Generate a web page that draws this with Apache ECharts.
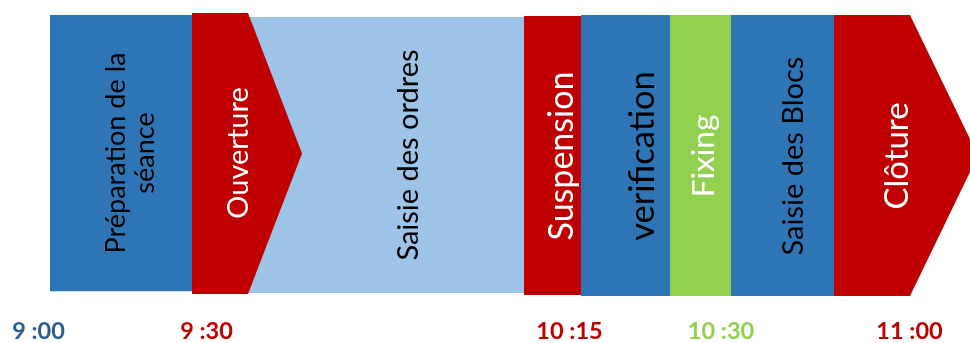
<!DOCTYPE html>
<html><head><meta charset="utf-8">
<script src="https://cdn.jsdelivr.net/npm/echarts@6/dist/echarts.min.js"></script>
<style>html,body{margin:0;padding:0;background:#fff}#c{width:970px;height:343px}</style>
</head><body><div id="c"></div>
<script>
// ---- data ----
const phases = ['Préparation de la\nséance','Saisie des ordres','Ouverture','Suspension','verification','Fixing','Saisie des Blocs','Clôture'];
const phaseStart = [50, 248, 192, 524, 581, 670, 731, 834];
const phaseEnd   = [192, 524, 248, 581, 670, 731, 834, 910];
const phaseTip   = [0, 0, 302, 0, 0, 0, 0, 978];
const phaseTop   = [15, 17, 13, 16, 15, 15, 15, 15];
const phaseBottom= [293, 295, 296, 297, 298, 298, 298, 298];
const tickValues = [38.5, 206.5, 569.5, 721, 909.5];
const tickLabels = ['9 :00', '9 :30', '10 :15', '10 :30', '11 :00'];

// ---- layout / style ----
const kind = ['blue','light','red','red','blue','green','blue','red'];
const fill = {blue:'#2E75B6', light:'#9DC3E6', red:'#C00000', green:'#92D050'};
const textFill = {blue:'#000', light:'#000', red:'#fff', green:'#fff'};
const labelX = [131, 409, 239, 562, 643, 704, 794, 897];
const labelY = [154, 156, 154, 157, 157, 157, 157, 157];
const labelSize = [27, 29, 29, 34, 34.5, 31.5, 29, 33];
const tickColors = ['#2F5C8F','#C00000','#C00000','#92D050','#C00000'];

const chart = echarts.init(document.getElementById('c'), null, {renderer:'canvas'});
const rich = {};
tickColors.forEach((c,i)=>{ rich['t'+i] = {color:c, fontFamily:'Lato', fontWeight:'bold', fontSize:23.5}; });
chart.setOption({
  animation:false,
  grid:{left:0,right:0,top:0,bottom:30},
  xAxis:{type:'value',min:0,max:970,axisLine:{show:false},axisTick:{show:false},splitLine:{show:false},
    axisLabel:{customValues:tickValues, margin:8, formatter:(v)=>{const i=tickValues.indexOf(v);return '{t'+i+'|'+tickLabels[i]+'}';}, rich:rich}},
  yAxis:{type:'value',min:0,max:313,inverse:true,show:false},
  series:[{
    type:'custom',
    data: phases.map((p,i)=>[phaseStart[i],phaseEnd[i],phaseTip[i],phaseTop[i],phaseBottom[i]]),
    renderItem:(params, api)=>{
      const i = params.dataIndex;
      const s=api.value(0), e=api.value(1), tip=api.value(2), t=api.value(3), b=api.value(4);
      const a = api.coord([s,t]), c = api.coord([e,b]);
      let pts = [[a[0],a[1]],[c[0],a[1]],[c[0],c[1]],[a[0],c[1]]];
      if (tip > e) {
        const p = api.coord([tip,(t+b)/2]);
        pts = [[a[0],a[1]],[c[0],a[1]],p,[c[0],c[1]],[a[0],c[1]]];
      }
      const lp = api.coord([labelX[i], labelY[i]]);
      return {type:'group', children:[
        {type:'polygon', z2: i*2, shape:{points:pts}, style:{fill:fill[kind[i]]}},
        {type:'text', z2: i*2+1, x:lp[0], y:lp[1], rotation:Math.PI/2,
          style:{text:phases[i], fill:textFill[kind[i]], font: labelSize[i]+'px Lato', align:'center', verticalAlign:'middle', lineHeight: labelSize[i]*1.08}}
      ]};
    }
  }]
});
</script></body></html>
